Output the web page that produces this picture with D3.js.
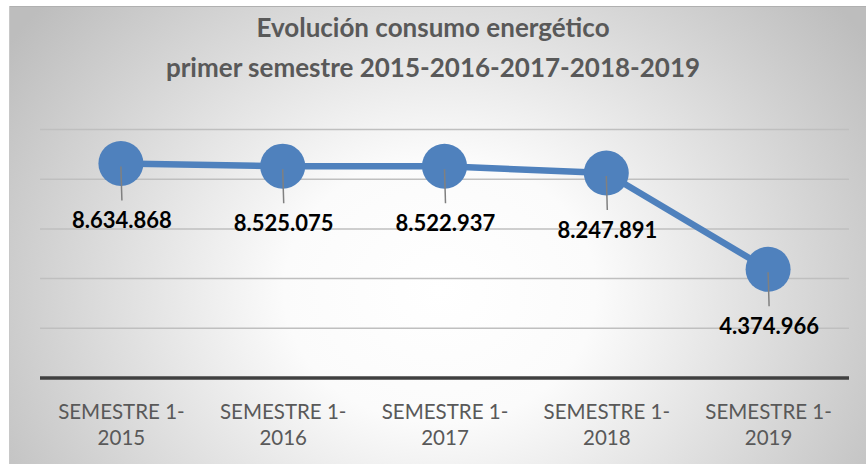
<!DOCTYPE html>
<html>
<head>
<meta charset="utf-8">
<script src="https://d3js.org/d3.v7.min.js"></script>
<style>
  body { margin: 0; background: #fff; }
  text { font-family: Lato, "Open Sans", sans-serif; }
</style>
</head>
<body>
<div id="graph"></div>
<script>
// data
var categories = ["SEMESTRE 1-2015", "SEMESTRE 1-2016", "SEMESTRE 1-2017", "SEMESTRE 1-2018", "SEMESTRE 1-2019"];
var values = [8634868, 8525075, 8522937, 8247891, 4374966];
var valueLabels = ["8.634.868", "8.525.075", "8.522.937", "8.247.891", "4.374.966"];
var yTicks = [2000000, 4000000, 6000000, 8000000, 10000000];
var titleLines = ["Evolución consumo energético", "primer semestre 2015-2016-2017-2018-2019"];

var W = 866, H = 464;
var plot = {left: 40, right: 849, top: 129.5, bottom: 378};

var svg = d3.select("#graph").append("svg")
  .attr("width", W).attr("height", H);

// chart area background (radial gradient like the Excel chart)
var grad = svg.append("defs").append("radialGradient")
  .attr("id", "bg")
  .attr("gradientUnits", "userSpaceOnUse")
  .attr("cx", 440).attr("cy", 290).attr("r", 520)
  .attr("gradientTransform", "translate(440,290) scale(1,0.85) translate(-440,-290)");
grad.append("stop").attr("offset", 0).attr("stop-color", "#ffffff");
grad.append("stop").attr("offset", 0.3).attr("stop-color", "#fbfbfb");
grad.append("stop").attr("offset", 1).attr("stop-color", "#bdbdbd");

svg.append("rect")
  .attr("x", 9).attr("y", 6)
  .attr("width", W - 9).attr("height", H - 6)
  .attr("fill", "url(#bg)");
svg.append("line")
  .attr("x1", 9).attr("x2", W).attr("y1", 6.5).attr("y2", 6.5)
  .attr("stroke", "#b0b0b0").attr("stroke-width", 1);
svg.append("line")
  .attr("x1", 9.5).attr("x2", 9.5).attr("y1", 6).attr("y2", H)
  .attr("stroke", "#c8c8c8").attr("stroke-width", 1);

// scales
var x = d3.scalePoint()
  .domain(categories)
  .range([plot.left, plot.right])
  .padding(0.5);

var y = d3.scaleLinear()
  .domain([0, 10000000])
  .range([plot.bottom, plot.top]);

// gridlines
svg.append("g")
  .selectAll("line")
  .data(yTicks)
  .enter().append("line")
    .attr("x1", plot.left).attr("x2", plot.right)
    .attr("y1", function(d) { return y(d); })
    .attr("y2", function(d) { return y(d); })
    .attr("stroke", "#bfbfbf")
    .attr("stroke-width", 1.5);

// x axis
var xAxis = svg.append("g")
  .attr("transform", "translate(0," + plot.bottom + ")")
  .call(d3.axisBottom(x).tickSize(0).tickFormat(""));
xAxis.select(".domain").remove();
xAxis.append("line")
  .attr("x1", plot.left).attr("x2", plot.right)
  .attr("stroke", "#404040").attr("stroke-width", 3.5);

xAxis.selectAll(".tick").each(function(d) {
  var t = d3.select(this).append("text")
    .attr("fill", "#595959")
    .attr("font-size", "20.5px")
    .attr("text-anchor", "middle");
  var parts = d.split("-");
  t.append("tspan").attr("x", 0).attr("y", 41).text(parts[0] + "-");
  t.append("tspan").attr("x", 0).attr("y", 67).text(parts[1]);
});

// line
var line = d3.line()
  .x(function(d, i) { return x(categories[i]); })
  .y(function(d) { return y(d); });

svg.append("path")
  .datum(values)
  .attr("fill", "none")
  .attr("stroke", "#4f81bd")
  .attr("stroke-width", 6.5)
  .attr("stroke-linejoin", "round")
  .attr("d", line);

// markers
svg.append("g")
  .selectAll("circle")
  .data(values)
  .enter().append("circle")
    .attr("cx", function(d, i) { return x(categories[i]); })
    .attr("cy", function(d) { return y(d); })
    .attr("r", 22.5)
    .attr("fill", "#4f81bd");

// leader lines + data labels
var labelDy = 65;
svg.append("g")
  .selectAll("line")
  .data(values)
  .enter().append("line")
    .attr("x1", function(d, i) { return x(categories[i]); })
    .attr("x2", function(d, i) { return x(categories[i]) + 1; })
    .attr("y1", function(d) { return y(d) + 3; })
    .attr("y2", function(d) { return y(d) + labelDy - 28; })
    .attr("stroke", "#808080")
    .attr("stroke-width", 1.5);

svg.append("g")
  .selectAll("text")
  .data(values)
  .enter().append("text")
    .attr("x", function(d, i) { return x(categories[i]) + 1; })
    .attr("y", function(d) { return y(d) + labelDy; })
    .attr("text-anchor", "middle")
    .attr("font-size", "22px")
    .attr("font-weight", "bold")
    .attr("fill", "#000")
    .text(function(d, i) { return valueLabels[i]; });

// title
svg.append("g")
  .selectAll("text")
  .data(titleLines)
  .enter().append("text")
    .attr("x", 433)
    .attr("y", function(d, i) { return 37 + i * 40; })
    .attr("text-anchor", "middle")
    .attr("font-size", "26px")
    .attr("font-weight", "bold")
    .attr("fill", "#595959")
    .text(function(d) { return d; });
</script>
</body>
</html>
